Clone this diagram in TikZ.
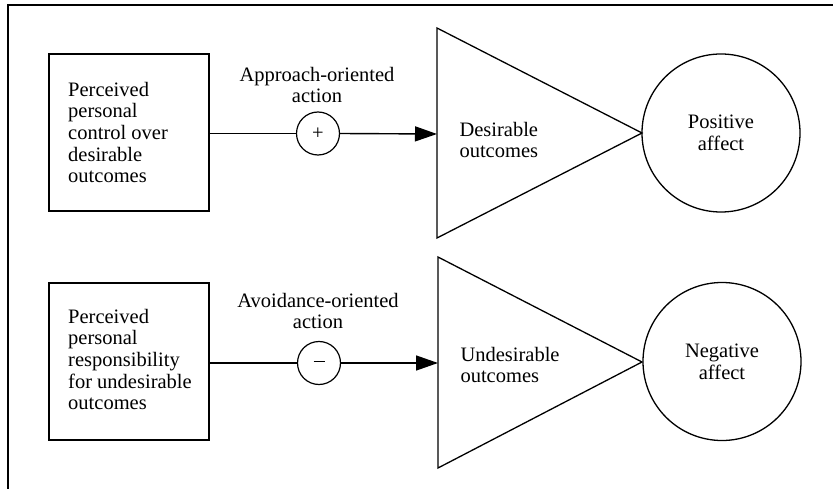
\documentclass[tikz,border=0pt]{standalone}
\usepackage{fontspec}
\setmainfont{Liberation Serif}
\usetikzlibrary{arrows.meta}
\begin{document}
\begin{tikzpicture}[x=1pt,y=-1pt,
  every node/.style={font=\fontsize{20.5}{21.7}\selectfont},
  srcbox/.style={draw, line width=1.3pt, minimum width=160pt, minimum height=157pt, inner sep=0pt},
  srctext/.style={anchor=west, align=left, inner sep=0pt},
  sign/.style={draw, line width=1.2pt, circle, minimum size=43pt, inner sep=0pt},
  affect/.style={draw, line width=1.3pt, circle, minimum size=158pt, inner sep=0pt, align=center},
  line/.style={draw, line width=1.4pt},
  flow/.style={line width=1.4pt, -{Triangle[length=22pt,width=15pt]}},
  wedge/.style={line width=1.3pt, line join=miter},
  lbl/.style={align=center}]
\useasboundingbox (0,0) rectangle (833,489);

% open frame: top and left rules
\draw[line width=1.6pt] (8,489) -- (8,5) -- (833,5);

% ---- upper row ----
\node[srcbox] (ctrl) at (129,132.5) {};
\node[srctext] (ctrltxt) at (68,132.5) {Perceived\\personal\\control over\\desirable\\outcomes};
\node[sign] (plus) at (318,133.5) {+};
\node[lbl] (appr) at (317,85) {Approach-oriented\\action};
\draw[wedge] (437,28) -- (642,133) -- (437,238) -- cycle;
\coordinate (desw) at (437,134);
\node[anchor=west, align=left] (des) at (456,140) {Desirable\\outcomes};
\node[affect] (pos) at (721,133) {Positive\\affect};

\draw[line] (ctrl.east |- plus) -- (plus.west);
\draw[flow] (plus.east) -- (desw);

% ---- lower row ----
\node[srcbox] (resp) at (129,361.5) {};
\node[srctext] (resptxt) at (68,359.5) {Perceived\\personal\\responsibility\\for undesirable\\outcomes};
\node[sign] (minus) at (319,363) {\raisebox{0.3ex}{\rule{11pt}{1pt}}};
\node[lbl] (avoid) at (318,311) {Avoidance-oriented\\action};
\draw[wedge] (438,257) -- (642,362) -- (438,468) -- cycle;
\coordinate (undw) at (438,363);
\node[anchor=west, align=left] (und) at (457,365) {Undesirable\\outcomes};
\node[affect] (neg) at (722,361.5) {Negative\\affect};

\draw[line] (resp.east |- minus) -- (minus.west);
\draw[flow] (minus.east) -- (undw);
\end{tikzpicture}
\end{document}
